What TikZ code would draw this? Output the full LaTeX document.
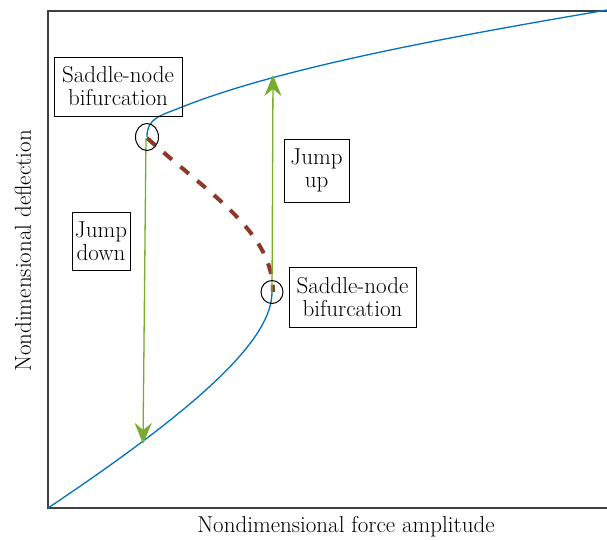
\documentclass[tikz,border=0pt]{standalone}
\usetikzlibrary{arrows.meta,shapes.geometric}
\definecolor{curveblue}{RGB}{0,114,189}
\definecolor{jumpgreen}{RGB}{119,172,48}
\definecolor{unstable}{RGB}{142,56,40}
\begin{document}
\begin{tikzpicture}[x=1pt,y=-1pt,
  lab/.style={draw, line width=1pt, align=center, font=\fontsize{23}{23}\selectfont, inner sep=0pt},
  axlab/.style={font=\fontsize{23}{23}\selectfont, inner sep=0pt},
  axis/.style={draw=black!75, line width=1.3pt},
  branch/.style={draw=curveblue, line width=1.3pt},
  unst/.style={draw=unstable, line width=4pt, dash pattern=on 11pt off 11pt},
  jump/.style={draw=jumpgreen, line width=1.3pt, -{Stealth[length=21pt,width=17pt,inset=7pt]}},
  mark circle/.style={draw, ellipse, line width=1pt, inner sep=0pt}]
\useasboundingbox (0,0) rectangle (607,539);
% axes
\coordinate (o) at (48,508);
\coordinate (tl) at (48,11);
\coordinate (tr) at (607,11);
\coordinate (br) at (607,508);
\draw[axis] (br) -- (o) -- (tl) -- (tr);
% key points
\coordinate (sn1) at (147,137);
\coordinate (sn2) at (272,292);
\coordinate (knee) at (182,107);
\coordinate (top) at (607,10);
\coordinate (jdend) at (143,444);
\coordinate (juend) at (273,75);
% branches
\draw[branch] (o) .. controls (208,401) and (272,337) .. (sn2);
\draw[branch] (sn1) .. controls (147,118) and (160,115.8) .. (knee)
  .. controls (282,67) and (457,35.5) .. (top);
\draw[unst] (147,138) .. controls (212,196) and (273,232) .. (273,292);
% jumps
\draw[jump] (146,138) -- (jdend);
\draw[jump] (sn2) -- (juend);
% markers
\node[mark circle, minimum width=23pt, minimum height=27pt] (c1) at (sn1) {};
\node[mark circle, minimum width=22pt, minimum height=23pt] (c2) at (sn2) {};
% labels
\node[lab, minimum width=128pt, minimum height=59pt] (b1) at (118,86.5) {Saddle-node\\bifurcation};
\node[lab, minimum width=127pt, minimum height=60pt] (b2) at (352.5,297) {Saddle-node\\bifurcation};
\node[lab, minimum width=65pt, minimum height=63pt] (bu) at (316.5,170.5) {Jump\\up};
\node[lab, minimum width=58pt, minimum height=58pt] (bd) at (101,241) {Jump\\down};
\node[axlab] (xl) at (346,527) {Nondimensional force amplitude};
\node[axlab, rotate=90] (yl) at (23,251) {Nondimensional deflection};
\end{tikzpicture}
\end{document}
